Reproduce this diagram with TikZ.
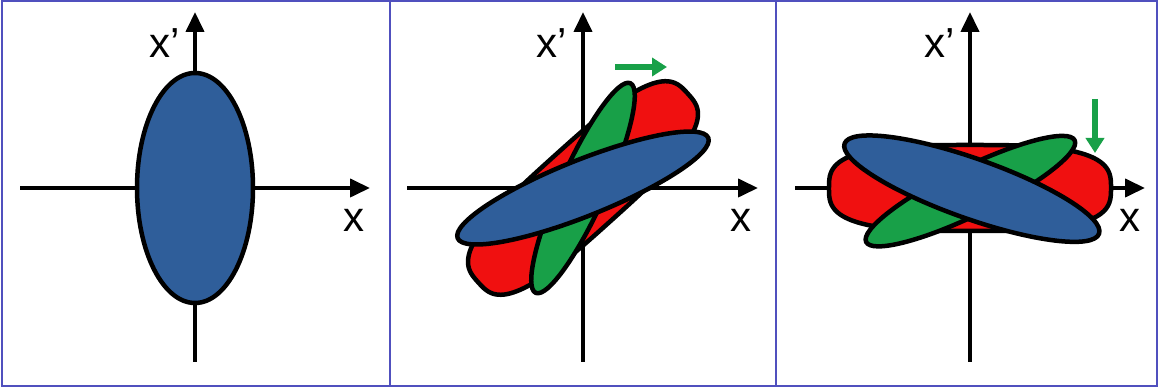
\documentclass[tikz,border=0pt]{standalone}
\usepackage{fontspec}
\setmainfont{Liberation Sans}
\usetikzlibrary{arrows.meta,calc,positioning}
\definecolor{bluefill}{RGB}{47,94,154}
\definecolor{greenfill}{RGB}{24,160,72}
\definecolor{redfill}{RGB}{240,16,16}
\definecolor{frameblue}{RGB}{80,80,190}

% rounded red patch (superellipse)
\newcommand{\redpatch}{plot[domain=1:361, samples=121, smooth]
  ({141*sign(cos(\x))*abs(cos(\x))^(0.65)}, {43*sign(sin(\x))*abs(sin(\x))^(0.65)}) -- cycle}

\begin{document}
\begin{tikzpicture}[
  x=1pt, y=1pt,
  axis/.style={line width=4pt, -{Triangle[length=20pt,width=18pt]}},
  blob/.style={draw=black, line width=4.5pt, line join=round},
  shift arrow/.style={line width=5.5pt, draw=greenfill, -{Triangle[length=15pt,width=18pt]}},
  axis label/.style={font=\fontsize{42}{44}\selectfont, inner sep=0pt},
  panel/.style={draw=frameblue, line width=1.5pt}
]
  \useasboundingbox (0,0) rectangle (1159,390);

  % frames
  \draw[panel] (2,4) rectangle (1157,389);
  \draw[panel] (390,4) -- (390,389);
  \draw[panel] (776,4) -- (776,389);

  % origins
  \coordinate (o1) at (195,202);
  \coordinate (o2) at (583,202);
  \coordinate (o3) at (970,202);

  % axes
  \draw[axis] ($(o1)+(0,-174)$) -- ($(o1)+(0,176)$);
  \draw[axis] ($(o1)+(-175,0)$) -- ($(o1)+(175,0)$);
  \draw[axis] ($(o2)+(0,-174)$) -- ($(o2)+(0,176)$);
  \draw[axis] ($(o2)+(-176,0)$) -- ($(o2)+(175,0)$);
  \draw[axis] ($(o3)+(0,-174)$) -- ($(o3)+(0,176)$);
  \draw[axis] ($(o3)+(-175,0)$) -- ($(o3)+(175,0)$);

  \node[axis label] (xp1) at (165,347) {x’};
  \node[axis label] (x1)  at (354,170) {x};
  \node[axis label] (xp2) at (552,347) {x’};
  \node[axis label] (x2)  at (741,170) {x};
  \node[axis label] (xp3) at (940,347) {x’};
  \node[axis label] (x3)  at (1130,170) {x};

  % panel 1
  \draw[blob, fill=bluefill] (o1) ellipse [x radius=58, y radius=115];

  % panel 2
  \begin{scope}[shift={(o2)}, rotate=42]
    \draw[blob, fill=redfill] \redpatch;
  \end{scope}
  \draw[blob, fill=greenfill, rotate around={65.7:(o2)}] (o2) ellipse [x radius=115, y radius=23];
  \draw[blob, fill=bluefill, rotate around={21.8:(o2)}] (o2) ellipse [x radius=135, y radius=28];
  \coordinate (s2a) at (615,323);
  \coordinate (s2b) at (667,323);
  \draw[shift arrow] (s2a) -- (s2b);

  % panel 3
  \begin{scope}[shift={(o3)}]
    \draw[blob, fill=redfill] \redpatch;
  \end{scope}
  \draw[blob, fill=greenfill, rotate around={26:(o3)}] ($(o3)+(-1,-3)$) ellipse [x radius=116, y radius=24];
  \draw[blob, fill=bluefill, rotate around={-19.5:(o3)}] ($(o3)+(2,0)$) ellipse [x radius=135, y radius=30];
  \coordinate (s3a) at (1095,291);
  \coordinate (s3b) at (1095,237);
  \draw[shift arrow] (s3a) -- (s3b);
\end{tikzpicture}
\end{document}
